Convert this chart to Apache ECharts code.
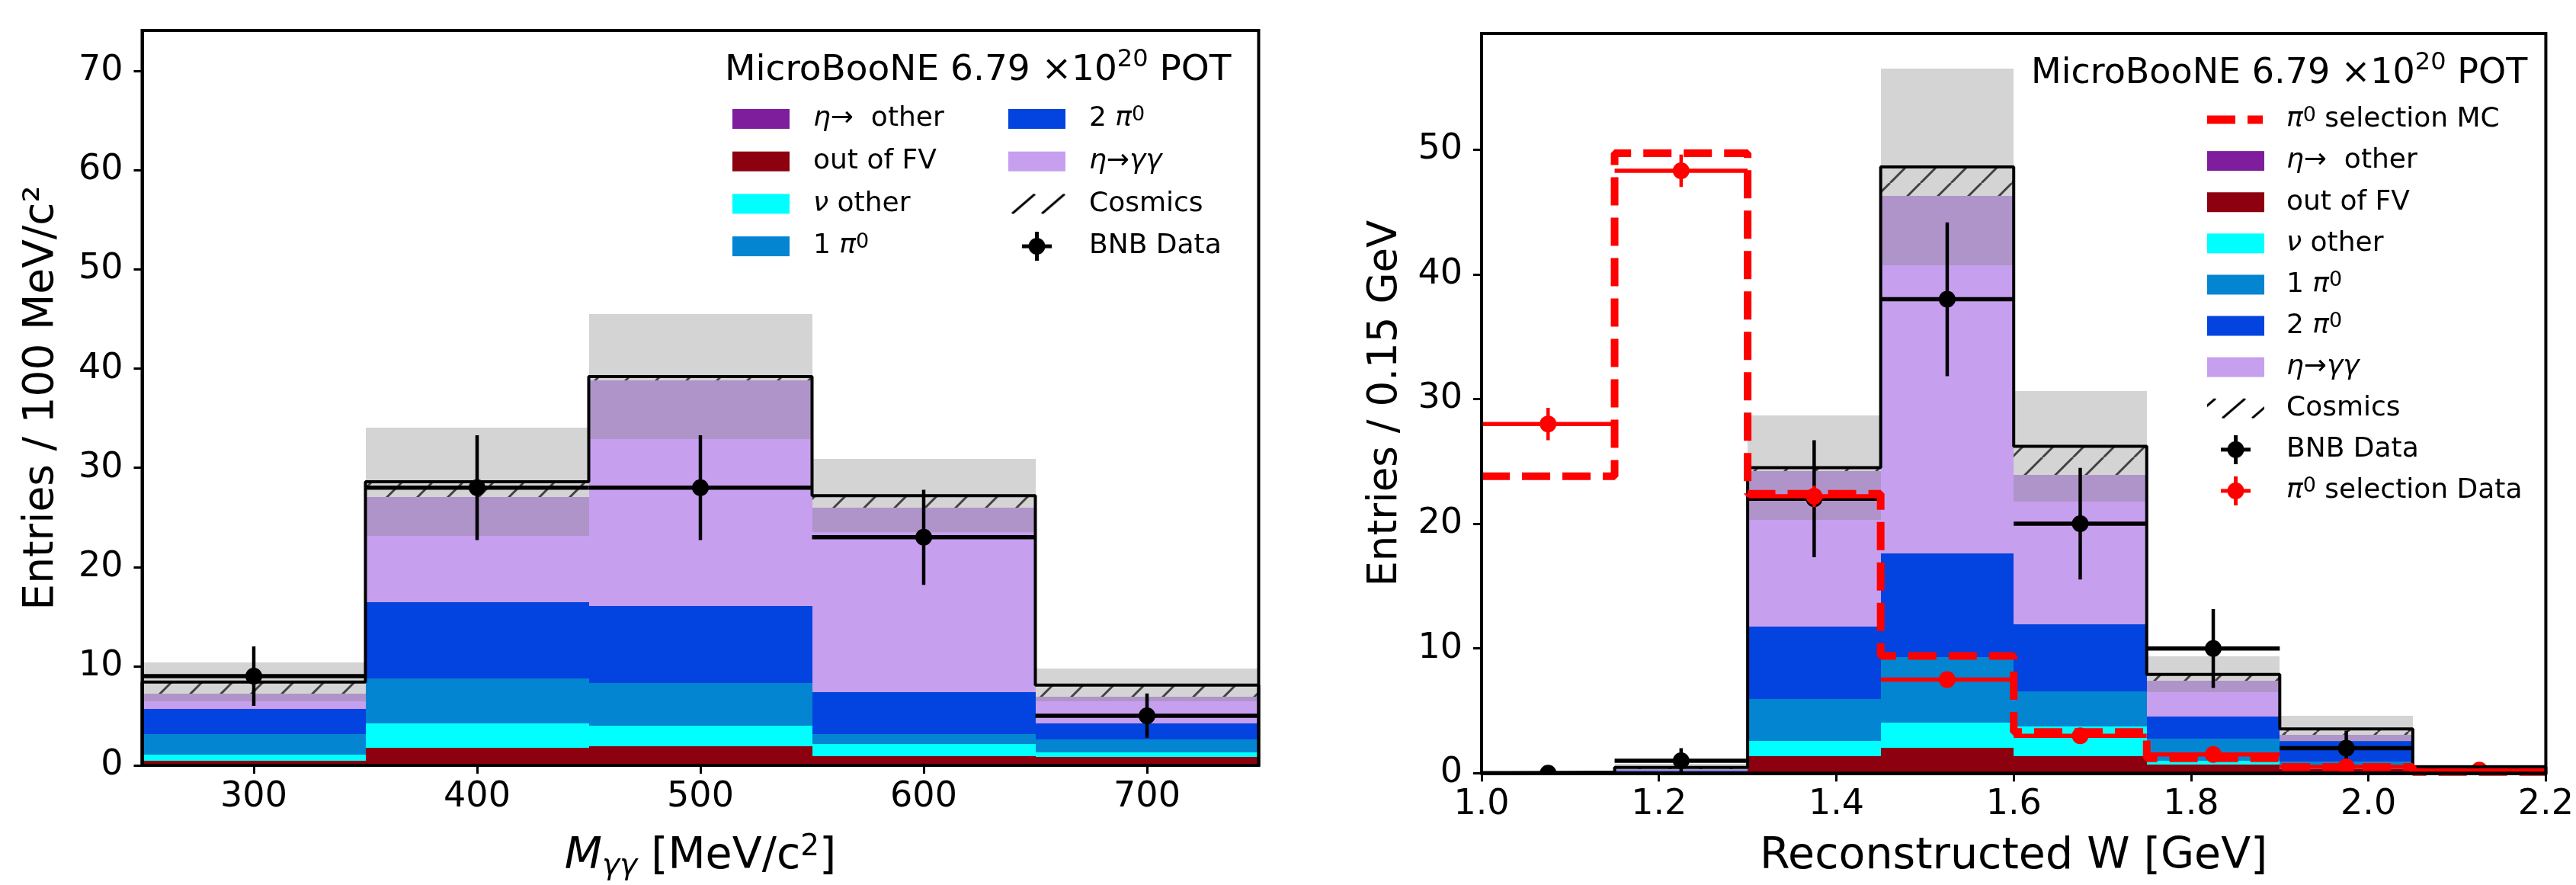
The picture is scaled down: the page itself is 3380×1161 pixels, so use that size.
<!DOCTYPE html>
<html>
<head>
<meta charset="utf-8">
<title>MicroBooNE eta selection</title>
<script src="https://cdn.jsdelivr.net/npm/echarts@6.0.0/dist/echarts.min.js"></script>
<style>
html, body { margin: 0; padding: 0; background: #fff; }
#chart { width: 3380px; height: 1161px; }
</style>
</head>
<body>
<div id="chart"></div>
<script>
var FONT = 'DejaVu Sans'

// left panel: diphoton mass, 100 MeV/c2 bins
var massEdges = [250, 350, 450, 550, 650, 750]
var massTicks = [300, 400, 500, 600, 700]
var massYTicks = [0, 10, 20, 30, 40, 50, 60, 70]
var massEtaOther = [0, 0.05, 0.1, 0.03, 0]
var massOutFV = [0.47, 1.72, 1.8, 0.93, 0.81]
var massNuOther = [0.62, 2.43, 2.1, 1.19, 0.49]
var massOnePi0 = [2.08, 4.57, 4.28, 1.02, 1.34]
var massTwoPi0 = [2.49, 7.66, 7.77, 4.2, 1.62]
var massEtaGG = [1.59, 10.61, 22.75, 18.61, 2.68]
var massCosmics = [1.15, 1.56, 0.4, 1.22, 1.15]
var massErr = [1.95, 5.45, 6.3, 3.7, 1.65]
var massData = [9, 28, 28, 23, 5]

// right panel: reconstructed W, 0.15 GeV bins
var wEdges = [1.0, 1.15, 1.3, 1.45, 1.6, 1.75, 1.9, 2.05, 2.2]
var wTicks = [1.0, 1.2, 1.4, 1.6, 1.8, 2.0, 2.2]
var wYTicks = [0, 10, 20, 30, 40, 50]
var wEtaOther = [0, 0, 0, 0.1, 0.1, 0, 0, 0]
var wOutFV = [0, 0.02, 1.35, 1.95, 1.28, 0.7, 0.3, 0.08]
var wNuOther = [0, 0.03, 1.25, 2.02, 2.37, 0.3, 0.25, 0.07]
var wOnePi0 = [0.02, 0.08, 3.32, 5.26, 2.79, 1.76, 0.4, 0.1]
var wTwoPi0 = [0.02, 0.1, 5.86, 8.27, 5.39, 1.76, 1.65, 0.1]
var wEtaGG = [0.02, 0.1, 12.42, 28.7, 11.97, 2.9, 0.5, 0.1]
var wCosmics = [0.02, 0.13, 0.3, 2.3, 2.3, 0.5, 0.45, 0.05]
var wErr = [0.05, 0.3, 4.2, 7.9, 4.45, 1.43, 1.05, 0.22]
var wData = [0, 1, 22, 38, 20, 10, 2, 0]
var wPi0MC = [23.8, 49.7, 22.4, 9.4, 3.3, 1.2, 0.5, 0.1]
var wPi0Data = [28.0, 48.3, 22.2, 7.5, 3.0, 1.5, 0.5, 0.25]
var wPi0Err = [1.3, 1.3, 0.85, 0.5, 0.35, 0.3, 0.15, 0.1]

var names = ['η→ other', 'out of FV', 'ν other', '1 π⁰', '2 π⁰', 'η→γγ', 'Cosmics']
var colors = ['#7e1e9c', '#8c000f', '#00ffff', '#0485d1', '#0343df', '#c79fef']
var labels = {
    'η→ other': '{i|η}{n|→  other}',
    'out of FV': '{n|out of FV}',
    'ν other': '{i|ν}{n| other}',
    '1 π⁰': '{n|1 }{i|π}{p|0}',
    '2 π⁰': '{n|2 }{i|π}{p|0}',
    'η→γγ': '{i|η}{n|→}{i|γγ}',
    'Cosmics': '{n|Cosmics}',
    'BNB Data': '{n|BNB Data}',
    'π⁰ selection MC': '{i|π}{p|0}{n| selection MC}',
    'π⁰ selection Data': '{i|π}{p|0}{n| selection Data}'
}

// hatch fill for cosmics
var hatch = document.createElement('canvas')
hatch.width = 40
hatch.height = 40
var hg = hatch.getContext('2d')
hg.fillStyle = '#fff'
hg.fillRect(0, 0, 40, 40)
hg.strokeStyle = '#222'
hg.lineWidth = 3
hg.beginPath()
for (var off = -40; off <= 40; off += 40) {
    hg.moveTo(off, 40)
    hg.lineTo(off + 40, 0)
}
hg.stroke()
var hatchFill = { image: hatch, repeat: 'repeat' }

function iconOf(w, draw) {
    var c = document.createElement('canvas')
    c.width = w
    c.height = 38
    var g = c.getContext('2d')
    draw(g)
    return 'image://' + c.toDataURL()
}
function swatch(w, color) {
    return iconOf(w, function(g) { g.fillStyle = color; g.fillRect(0, 6, 75, 26) })
}
function hatchIcon(w, phase) {
    return iconOf(w, function(g) {
        g.save()
        g.beginPath()
        g.rect(0, 6, 75, 26)
        g.clip()
        g.strokeStyle = '#000'
        g.lineWidth = 3
        g.beginPath()
        for (var x = phase - 78; x < 100; x += 39) {
            g.moveTo(x, 32)
            g.lineTo(x + 30, 6)
        }
        g.stroke()
        g.restore()
    })
}
function pointIcon(w, color) {
    return iconOf(w, function(g) {
        g.strokeStyle = color
        g.fillStyle = color
        g.lineWidth = 5
        g.beginPath()
        g.moveTo(18, 19); g.lineTo(57, 19)
        g.moveTo(37.5, 0); g.lineTo(37.5, 38)
        g.stroke()
        g.beginPath()
        g.arc(37.5, 19, 11, 0, Math.PI * 2)
        g.fill()
    })
}
var dashIcon = iconOf(99, function(g) {
    g.fillStyle = '#ff0000'
    g.fillRect(0, 13.5, 37, 11)
    g.fillRect(53, 13.5, 20, 11)
})

function rectItem(fill) {
    return function(params, api) {
        var a = api.coord([api.value(0), api.value(2)])
        var b = api.coord([api.value(1), api.value(3)])
        var x0 = Math.round(a[0]), x1 = Math.round(b[0])
        var y0 = Math.round(b[1]), y1 = Math.round(a[1])
        if (y1 <= y0) return { type: 'group', children: [] }
        return { type: 'rect', shape: { x: x0, y: y0, width: x1 - x0, height: y1 - y0 }, style: { fill: fill } }
    }
}

function pointItem(color) {
    return function(params, api) {
        var y = api.value(3), e = api.value(4)
        var l = api.coord([api.value(0), y]), r = api.coord([api.value(1), y]), c = api.coord([api.value(2), y])
        var kids = [{ type: 'line', shape: { x1: l[0], y1: l[1], x2: r[0], y2: r[1] }, style: { stroke: color, lineWidth: 5.5 } }]
        if (e > 0) {
            var t = api.coord([api.value(2), y + e]), b = api.coord([api.value(2), y - e])
            kids.push({ type: 'line', shape: { x1: t[0], y1: t[1], x2: b[0], y2: b[1] }, style: { stroke: color, lineWidth: 4.5 } })
        }
        kids.push({ type: 'circle', shape: { cx: c[0], cy: c[1], r: 11 }, style: { fill: color } })
        var cs = params.coordSys
        return { type: 'group', children: kids, clipPath: { type: 'rect', shape: { x: cs.x, y: cs.y, width: cs.width, height: cs.height } } }
    }
}

function panelSeries(ax, edges, layers, err) {
    var out = []
    var total = edges.slice(1).map(function() { return 0 })
    layers.forEach(function(vals, k) {
        var rows = vals.map(function(v, i) {
            var row = [edges[i], edges[i + 1], total[i], total[i] + v]
            total[i] += v
            return row
        })
        var fill = k < colors.length ? colors[k] : hatchFill
        out.push({
            type: 'custom', name: names[k], xAxisIndex: ax, yAxisIndex: ax, silent: true,
            itemStyle: { color: k < colors.length ? colors[k] : '#888' },
            data: rows, encode: { x: [0, 1], y: [2, 3] },
            renderItem: rectItem(fill)
        })
    })
    // MC uncertainty band
    out.push({
        type: 'custom', name: 'MC uncertainty', xAxisIndex: ax, yAxisIndex: ax, silent: true,
        data: total.map(function(t, i) { return [edges[i], edges[i + 1], t - err[i], t + err[i]] }),
        encode: { x: [0, 1], y: [2, 3] },
        renderItem: rectItem('rgba(128,128,128,0.34)')
    })
    // total MC outline
    var step = [[edges[0], 0]]
    total.forEach(function(t, i) { step.push([edges[i], t]) })
    step.push([edges[edges.length - 1], total[total.length - 1]])
    step.push([edges[edges.length - 1], 0])
    out.push({
        type: 'line', name: 'MC total', xAxisIndex: ax, yAxisIndex: ax, step: 'end', silent: true,
        symbol: 'none', data: step, lineStyle: { color: '#000', width: 4 }, itemStyle: { color: '#000' }
    })
    return out
}

function dataSeries(ax, name, color, edges, vals, errs) {
    return {
        type: 'custom', name: name, xAxisIndex: ax, yAxisIndex: ax, silent: true,
        itemStyle: { color: color },
        data: vals.map(function(v, i) { return [edges[i], edges[i + 1], (edges[i] + edges[i + 1]) / 2, v, errs[i]] }),
        encode: { x: [0, 1], y: 3 },
        renderItem: pointItem(color)
    }
}

var massLayers = [massEtaOther, massOutFV, massNuOther, massOnePi0, massTwoPi0, massEtaGG, massCosmics]
var wLayers = [wEtaOther, wOutFV, wNuOther, wOnePi0, wTwoPi0, wEtaGG, wCosmics]

var series = panelSeries(0, massEdges, massLayers, massErr)
series.push(dataSeries(0, 'BNB Data', '#000', massEdges, massData, massData.map(Math.sqrt)))
series = series.concat(panelSeries(1, wEdges, wLayers, wErr))
var mcStep = wPi0MC.map(function(v, i) { return [wEdges[i], v] })
mcStep.push([wEdges[wEdges.length - 1], wPi0MC[wPi0MC.length - 1]])
series.push({
    type: 'line', name: 'π⁰ selection MC', xAxisIndex: 1, yAxisIndex: 1, step: 'end', silent: true,
    symbol: 'none', data: mcStep, itemStyle: { color: '#ff0000' },
    lineStyle: { color: '#ff0000', width: 10, type: [37, 16] }
})
series.push(dataSeries(1, 'BNB Data', '#000', wEdges, wData, wData.map(Math.sqrt)))
series.push(dataSeries(1, 'π⁰ selection Data', '#ff0000', wEdges, wPi0Data, wPi0Err))

var legendRich = {
    i: { fontFamily: FONT, fontSize: 36, fontStyle: 'italic', color: '#000', lineHeight: 38 },
    n: { fontFamily: FONT, fontSize: 36, color: '#000', lineHeight: 38 },
    p: { fontFamily: FONT, fontSize: 27, color: '#000', lineHeight: 22, verticalAlign: 'top' }
}
function legendOf(left, top, gap, items) {
    return {
        orient: 'vertical', left: left, top: top, padding: 0, itemGap: gap,
        itemWidth: items.w, itemHeight: 38, selectedMode: false,
        data: items.list,
        formatter: function(name) { return labels[name] },
        textStyle: { fontFamily: FONT, fontSize: 36, color: '#000', rich: legendRich }
    }
}
function titleOf(left, top, size) {
    return {
        text: '{n|MicroBooNE 6.79 ×10}{p|20}{n| POT}', left: left, top: top, padding: 0,
        textStyle: {
            fontFamily: FONT, fontSize: size, fontWeight: 'normal', color: '#000',
            rich: {
                n: { fontFamily: FONT, fontSize: size, color: '#000', lineHeight: 60 },
                p: { fontFamily: FONT, fontSize: 32, color: '#000', lineHeight: 32, verticalAlign: 'top' }
            }
        }
    }
}

function axisX(grid, min, max, ticks, name, gap, fmt) {
    return {
        type: 'value', gridIndex: grid, min: min, max: max, z: 5,
        name: name, nameLocation: 'middle', nameGap: gap,
        nameTextStyle: {
            fontFamily: FONT, fontSize: 57, color: '#000',
            rich: {
                i: { fontFamily: FONT, fontSize: 57, fontStyle: 'italic', color: '#000', lineHeight: 64 },
                s: { fontFamily: FONT, fontSize: 39, fontStyle: 'italic', color: '#000', lineHeight: 34, verticalAlign: 'bottom' },
                n: { fontFamily: FONT, fontSize: 57, color: '#000', lineHeight: 64 },
                p: { fontFamily: FONT, fontSize: 39, color: '#000', lineHeight: 30, verticalAlign: 'top' }
            }
        },
        axisLine: { show: true, onZero: false, lineStyle: { color: '#000', width: 4 } },
        axisTick: { show: true, length: 11, customValues: ticks, lineStyle: { color: '#000', width: 3 } },
        axisLabel: { customValues: ticks, margin: 19, fontFamily: FONT, fontSize: 46, color: '#000', formatter: fmt },
        splitLine: { show: false }
    }
}
function axisY(grid, max, ticks, name, gap, size) {
    return {
        type: 'value', gridIndex: grid, min: 0, max: max, z: 5,
        name: name, nameLocation: 'middle', nameGap: gap,
        nameTextStyle: { fontFamily: FONT, fontSize: size, color: '#000' },
        axisLine: { show: true, onZero: false, lineStyle: { color: '#000', width: 4 } },
        axisTick: { show: true, length: 11, customValues: ticks, lineStyle: { color: '#000', width: 3 } },
        axisLabel: { customValues: ticks, margin: 25, fontFamily: FONT, fontSize: 46, color: '#000' },
        splitLine: { show: false }
    }
}

var chart = echarts.init(document.getElementById('chart'))
chart.setOption({
    animation: false,
    backgroundColor: '#fff',
    title: [titleOf(951, 63, 47), titleOf(2665, 67, 46)],
    grid: [
        { left: 186.5, top: 40, width: 1465, height: 970.7, show: true, z: 5,
          backgroundColor: 'transparent', borderColor: '#000', borderWidth: 4 },
        { left: 1944, top: 44, width: 1400.3, height: 970.3, show: true, z: 5,
          backgroundColor: 'transparent', borderColor: '#000', borderWidth: 4 }
    ],
    xAxis: [
        axisX(0, 250, 750, massTicks, '{i|M}{s|γγ}{n| [MeV/c}{p|2}{n|]}', 88),
        axisX(1, 1.0, 2.2, wTicks, 'Reconstructed W [GeV]', 81, function(v) { return v.toFixed(1) })
    ],
    yAxis: [
        axisY(0, 74.1, massYTicks, 'Entries / 100 MeV/c²', 104, 55),
        axisY(1, 59.3, wYTicks, 'Entries / 0.15 GeV', 99, 53)
    ],
    legend: [
        legendOf(961, 137, 17.7, { w: 101, list: [
            { name: 'η→ other', icon: swatch(101, colors[0]) },
            { name: 'out of FV', icon: swatch(101, colors[1]) },
            { name: 'ν other', icon: swatch(101, colors[2]) },
            { name: '1 π⁰', icon: swatch(101, colors[3]) }
        ] }),
        legendOf(1323, 137, 17.7, { w: 101, list: [
            { name: '2 π⁰', icon: swatch(101, colors[4]) },
            { name: 'η→γγ', icon: swatch(101, colors[5]) },
            { name: 'Cosmics', icon: hatchIcon(101, 44) },
            { name: 'BNB Data', icon: pointIcon(101, '#000') }
        ] }),
        legendOf(2896, 138, 16.1, { w: 99, list: [
            { name: 'π⁰ selection MC', icon: dashIcon },
            { name: 'η→ other', icon: swatch(99, colors[0]) },
            { name: 'out of FV', icon: swatch(99, colors[1]) },
            { name: 'ν other', icon: swatch(99, colors[2]) },
            { name: '1 π⁰', icon: swatch(99, colors[3]) },
            { name: '2 π⁰', icon: swatch(99, colors[4]) },
            { name: 'η→γγ', icon: swatch(99, colors[5]) },
            { name: 'Cosmics', icon: hatchIcon(99, 20) },
            { name: 'BNB Data', icon: pointIcon(99, '#000') },
            { name: 'π⁰ selection Data', icon: pointIcon(99, '#ff0000') }
        ] })
    ],
    series: series
})
</script>
</body>
</html>
